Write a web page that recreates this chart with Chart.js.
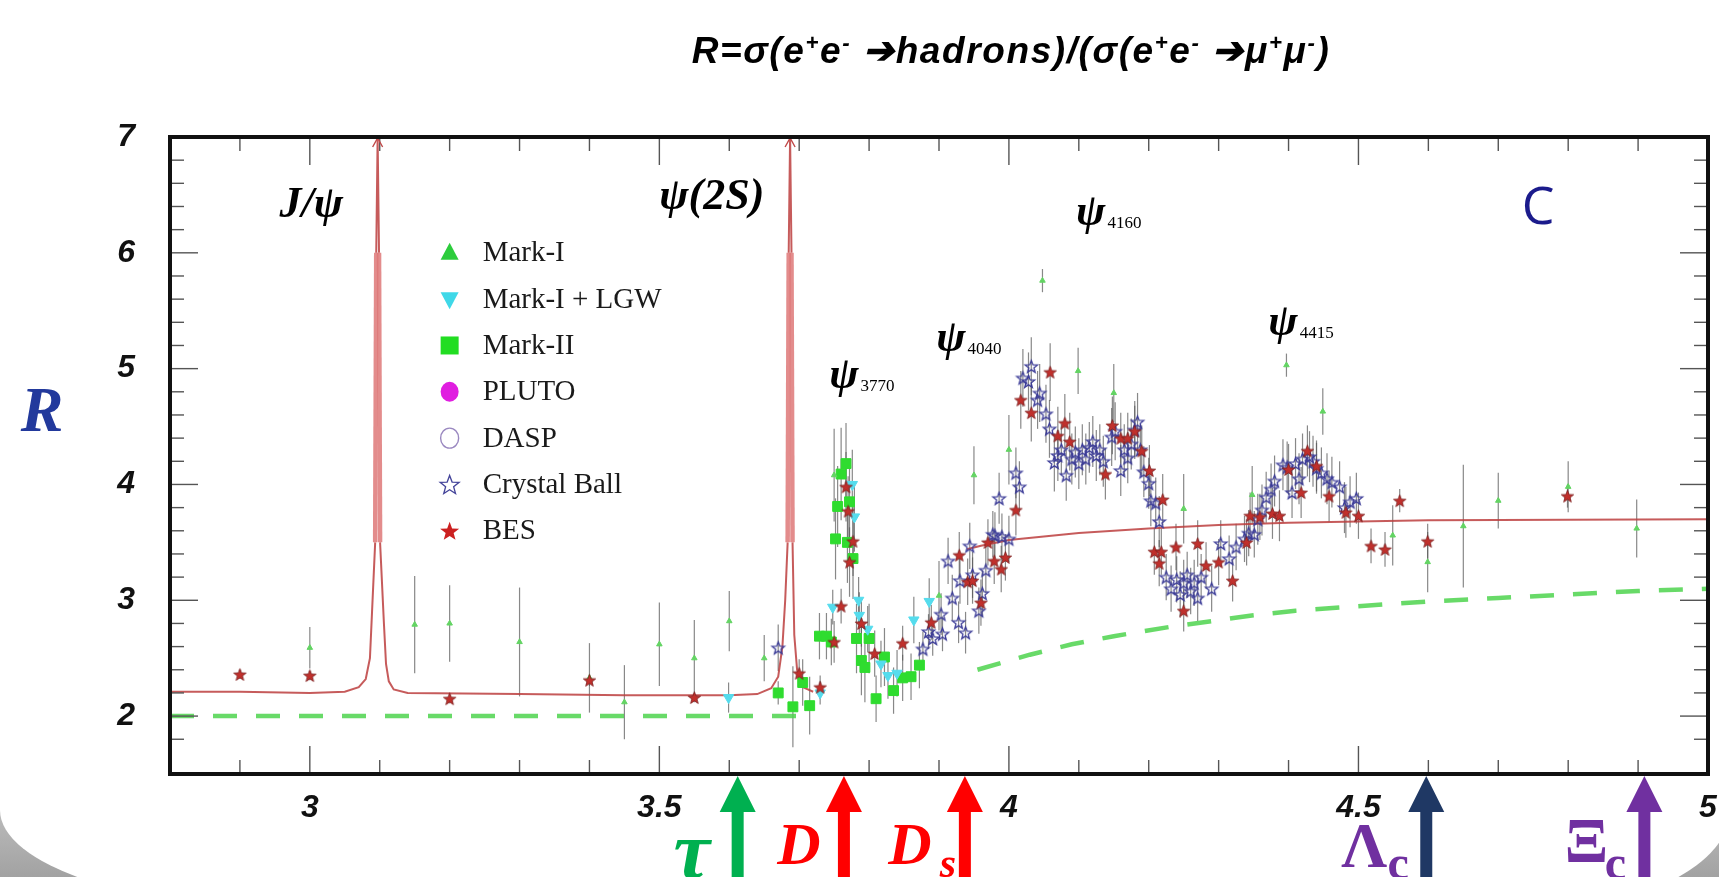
<!DOCTYPE html>
<html>
<head>
<meta charset="utf-8">
<script src="https://cdn.jsdelivr.net/npm/chart.js@4.4.1/dist/chart.umd.min.js"></script>
<style>
  html, body { margin: 0; padding: 0; width: 1719px; height: 877px; overflow: hidden; }
  body { position: relative; background: linear-gradient(#ffffff 0%, #ffffff 72%, #a2a2a2 100%); }
  #panel { position: absolute; left: 0; top: 58px; width: 1730px; height: 852px; background: #fff;
    border-radius: 0 130px 200px 300px / 0 60px 100px 100px; }
  #chart { position: absolute; left: 0; top: 0; }
  #title { position: absolute; top: 29px; left: 1011px; transform: translateX(-50%); white-space: nowrap;
    font: bold italic 37px "Liberation Sans", Arial, sans-serif; letter-spacing: 1.6px; color: #000; }
  #title sup { font-size: 60%; }
</style>
</head>
<body>
<div id="panel"></div>
<canvas id="chart" width="1719" height="877"></canvas>
<div id="title">R=σ(e<sup>+</sup>e<sup>-</sup> ➔hadrons)/(σ(e<sup>+</sup>e<sup>-</sup> ➔μ<sup>+</sup>μ<sup>-</sup>)</div>
<script>
// --- data (x = √s in GeV, y = R) ---
const markIX = [3.00, 3.15, 3.20, 3.30, 3.40, 3.45, 3.50, 3.55, 3.60, 3.65, 3.75, 3.90, 3.95, 4.00, 4.048, 4.099, 4.15, 4.25, 4.348, 4.397, 4.449, 4.549, 4.599, 4.65, 4.70, 4.80, 4.898];
const markIY = [2.59, 2.79, 2.80, 2.64, 2.33, 2.12, 2.62, 2.50, 2.82, 2.50, 4.08, 3.04, 4.08, 4.30, 5.76, 4.98, 4.79, 3.79, 3.91, 5.03, 4.63, 3.56, 3.33, 3.64, 3.86, 3.98, 3.62];
const markIErr = [0.18, 0.42, 0.33, 0.47, 0.30, 0.32, 0.36, 0.33, 0.26, 0.20, 0.40, 0.30, 0.25, 0.30, 0.10, 0.20, 0.25, 0.30, 0.25, 0.10, 0.20, 0.26, 0.26, 0.53, 0.24, 0.22, 0.25];

const lgwX = [3.599, 3.73, 3.748, 3.776, 3.779, 3.785, 3.786, 3.798, 3.817, 3.827, 3.84, 3.864, 3.886];
const lgwY = [2.16, 2.20, 2.94, 4.00, 3.72, 3.00, 2.87, 2.75, 2.45, 2.35, 2.37, 2.83, 2.99];
const lgwErr = [0.13, 0.10, 0.15, 0.30, 0.30, 0.20, 0.20, 0.20, 0.20, 0.20, 0.20, 0.20, 0.20];

const markIIX = [3.670, 3.691, 3.705, 3.715, 3.729, 3.739, 3.746, 3.752, 3.755, 3.760, 3.767, 3.769, 3.772, 3.777, 3.782, 3.789, 3.794, 3.800, 3.810, 3.822, 3.835, 3.848, 3.860, 3.872];
const markIIY = [2.20, 2.08, 2.29, 2.09, 2.69, 2.69, 2.64, 3.53, 3.81, 4.09, 4.18, 3.50, 3.85, 3.36, 2.67, 2.48, 2.42, 2.67, 2.15, 2.51, 2.22, 2.33, 2.34, 2.44];
const markIIErr = [0.10, 0.35, 0.20, 0.25, 0.20, 0.20, 0.20, 0.35, 0.35, 0.40, 0.35, 0.35, 0.35, 0.35, 0.30, 0.30, 0.30, 0.30, 0.20, 0.25, 0.20, 0.20, 0.20, 0.20];

const plutoX = [];
const plutoY = [];
const daspX = [];
const daspY = [];

const cbX = [3.670, 3.877, 3.885, 3.891, 3.903, 3.905, 3.913, 3.919, 3.928, 3.930,
  3.938, 3.944, 3.948, 3.957, 3.962, 3.967, 3.977, 3.980, 3.986, 3.990,
  4.000, 4.010, 4.015, 4.020, 4.028, 4.032, 4.041, 4.044, 4.053, 4.058,
  4.065, 4.070, 4.075, 4.082, 4.090, 4.095, 4.100, 4.105, 4.110, 4.115,
  4.120, 4.125, 4.130, 4.135, 4.147, 4.152, 4.160, 4.165, 4.170, 4.175,
  4.180, 4.184, 4.188, 4.193, 4.200, 4.203, 4.210, 4.215, 4.225, 4.232,
  4.240, 4.245, 4.250, 4.255, 4.260, 4.265, 4.270, 4.275, 4.290, 4.303,
  4.315, 4.325, 4.337, 4.343, 4.351, 4.356, 4.362, 4.368, 4.375, 4.380,
  4.392, 4.398, 4.405, 4.410, 4.415, 4.420, 4.430, 4.435, 4.440, 4.447,
  4.455, 4.462, 4.473, 4.480, 4.488, 4.497];
const cbY = [2.59, 2.58, 2.73, 2.67, 2.88, 2.71, 3.34, 3.02, 2.81, 3.17,
  2.72, 3.47, 3.22, 2.91, 3.06, 3.26, 3.57, 3.56, 3.88, 3.55,
  3.53, 4.10, 3.98, 4.92, 4.89, 5.02, 4.73, 4.79, 4.61, 4.48,
  4.19, 4.25, 4.30, 4.08, 4.22, 4.28, 4.18, 4.30, 4.22, 4.32,
  4.37, 4.25, 4.30, 4.20, 4.41, 4.46, 4.12, 4.30, 4.23, 4.35,
  4.47, 4.54, 4.30, 4.11, 4.01, 3.86, 3.84, 3.68, 3.20, 3.10,
  3.18, 3.05, 3.15, 3.22, 3.08, 3.15, 3.02, 3.20, 3.10, 3.49,
  3.36, 3.46, 3.53, 3.58, 3.57, 3.70, 3.78, 3.89, 3.96, 4.03,
  4.17, 4.15, 3.93, 4.18, 4.05, 4.22, 4.24, 4.20, 4.14, 4.10,
  4.05, 4.02, 3.98, 3.80, 3.85, 3.88];
const cbErr = [0.20, 0.15, 0.15, 0.15, 0.18, 0.15, 0.20, 0.20, 0.18, 0.20,
  0.18, 0.20, 0.20, 0.20, 0.20, 0.20, 0.20, 0.20, 0.22, 0.20,
  0.20, 0.22, 0.22, 0.25, 0.25, 0.25, 0.25, 0.25, 0.25, 0.25,
  0.25, 0.22, 0.22, 0.22, 0.22, 0.22, 0.22, 0.22, 0.22, 0.22,
  0.22, 0.22, 0.22, 0.22, 0.25, 0.25, 0.22, 0.22, 0.22, 0.22,
  0.25, 0.25, 0.22, 0.22, 0.22, 0.22, 0.22, 0.22, 0.20, 0.20,
  0.20, 0.20, 0.20, 0.20, 0.20, 0.20, 0.20, 0.20, 0.20, 0.20,
  0.20, 0.20, 0.20, 0.20, 0.20, 0.22, 0.22, 0.22, 0.22, 0.22,
  0.22, 0.22, 0.22, 0.22, 0.22, 0.22, 0.22, 0.22, 0.22, 0.22,
  0.22, 0.22, 0.22, 0.22, 0.22, 0.22];

const besX = [2.900, 3.000, 3.200, 3.400, 3.550, 3.700, 3.730, 3.750, 3.760, 3.767,
  3.770, 3.772, 3.777, 3.789, 3.808, 3.848, 3.889, 3.929, 3.941, 3.948,
  3.960, 3.970, 3.979, 3.989, 3.995, 4.010, 4.017, 4.032, 4.059, 4.070,
  4.080, 4.087, 4.138, 4.148, 4.160, 4.170, 4.180, 4.190, 4.201, 4.208,
  4.215, 4.218, 4.220, 4.239, 4.250, 4.270, 4.282, 4.300, 4.320, 4.340,
  4.345, 4.359, 4.377, 4.387, 4.400, 4.418, 4.427, 4.440, 4.458, 4.482,
  4.500, 4.518, 4.538, 4.559, 4.599, 4.799];
const besY = [2.36, 2.35, 2.15, 2.31, 2.16, 2.37, 2.25, 2.64, 2.95, 3.98,
  3.77, 3.33, 3.51, 2.80, 2.54, 2.63, 2.81, 3.39, 3.16, 3.17,
  2.98, 3.50, 3.34, 3.27, 3.37, 3.78, 4.73, 4.62, 4.97, 4.42,
  4.53, 4.37, 4.09, 4.51, 4.40, 4.40, 4.46, 4.29, 4.12, 3.42,
  3.32, 3.42, 3.87, 3.46, 2.91, 3.49, 3.30, 3.33, 3.17, 3.50,
  3.73, 3.72, 3.75, 3.73, 4.13, 3.93, 4.29, 4.16, 3.90, 3.76,
  3.73, 3.47, 3.44, 3.86, 3.51, 3.90];
const besErr = [0.04, 0.04, 0.04, 0.05, 0.04, 0.12, 0.10, 0.18, 0.15, 0.30,
  0.30, 0.30, 0.30, 0.20, 0.20, 0.15, 0.15, 0.20, 0.20, 0.20,
  0.20, 0.20, 0.20, 0.20, 0.20, 0.22, 0.25, 0.25, 0.25, 0.25,
  0.25, 0.25, 0.22, 0.25, 0.22, 0.22, 0.22, 0.22, 0.22, 0.20,
  0.20, 0.20, 0.22, 0.20, 0.18, 0.20, 0.20, 0.20, 0.18, 0.20,
  0.20, 0.20, 0.22, 0.22, 0.22, 0.22, 0.22, 0.22, 0.22, 0.22,
  0.20, 0.15, 0.15, 0.10, 0.15, 0.10];

// red curve (resonances + continuum) and green dashed curve (parton level)
const theoryX = [2.80, 2.90, 3.00, 3.05, 3.07, 3.08, 3.086, 3.089, 3.0935, 3.0950,
  3.097, 3.0990, 3.1005, 3.106, 3.109, 3.113, 3.12, 3.14, 3.30, 3.45,
  3.60, 3.64, 3.66, 3.67, 3.676, 3.680, 3.6835, 3.6850, 3.687, 3.6890,
  3.6905, 3.693, 3.697, 3.705, 3.72, 3.80, 3.94, 3.96, 4.00, 4.05,
  4.10, 4.20, 4.30, 4.40, 4.50, 4.60, 4.80, 5.00];
const theoryY = [2.21, 2.21, 2.20, 2.21, 2.25, 2.32, 2.50, 2.90, 3.50, 6.00,
  7.00, 6.00, 3.50, 2.80, 2.45, 2.30, 2.23, 2.20, 2.19, 2.18,
  2.18, 2.19, 2.24, 2.34, 2.60, 3.00, 3.50, 6.00, 7.00, 6.00,
  3.50, 2.70, 2.40, 2.25, 2.21, null, 3.44, 3.47, 3.52, 3.55,
  3.58, 3.62, 3.65, 3.67, 3.68, 3.69, 3.695, 3.70];
const partonX = [2.80, 3.72, 3.80, 3.955, 4.03, 4.09, 4.15, 4.23, 4.29, 4.35, 4.41, 4.48, 4.60, 4.70, 4.80, 4.90, 5.00];
const partonY = [2.00, 2.00, null, 2.40, 2.53, 2.62, 2.69, 2.77, 2.82, 2.87, 2.91, 2.94, 2.99, 3.02, 3.05, 3.08, 3.10];

// open-charm / tau thresholds marked under the axis
const thresholdX = [3.612, 3.764, 3.937, 4.597, 4.909];
const thresholdText = ["τ", "D", "D", "Λ", "Ξ"];
const thresholdSub = ["", "", "s", "c", "c"];
const thresholdArrowColor = ["#00b050", "#ff0000", "#ff0000", "#1f3864", "#7030a0"];
const thresholdTextColor = ["#00b050", "#ff0000", "#ff0000", "#7030a0", "#7030a0"];

// resonance labels
const resonanceName = ["J/ψ", "ψ(2S)", "ψ", "ψ", "ψ", "ψ"];
const resonanceSub = ["", "", "3770", "4040", "4160", "4415"];
const resonanceX = [3.002, 3.575, 3.764, 3.917, 4.117, 4.392];
const resonanceY = [6.41, 6.48, 4.93, 5.25, 6.34, 5.39];
const peakArrowX = [3.097, 3.687];

const pts = (xs, ys) => xs.map((x, i) => ({ x: x, y: ys[i] }));

function starPath(g, cx, cy, r) {
  g.beginPath();
  for (let i = 0; i < 10; i++) {
    const rr = i % 2 ? r * 0.42 : r;
    const a = -Math.PI / 2 + (i * Math.PI) / 5;
    g.lineTo(cx + rr * Math.cos(a), cy + rr * Math.sin(a));
  }
  g.closePath();
}

function starImage(r, fill, stroke, lw) {
  const c = document.createElement("canvas");
  const s = Math.ceil(2 * r + 4);
  c.width = s;
  c.height = s;
  const g = c.getContext("2d");
  starPath(g, s / 2, s / 2 + r * 0.1, r);
  if (fill) { g.fillStyle = fill; g.fill(); }
  if (stroke) { g.strokeStyle = stroke; g.lineWidth = lw; g.stroke(); }
  return c;
}

const cbStar = starImage(6.5, null, "#3c3c98", 1.3);
const besStar = starImage(6.5, "#c0302c", "#7a1c1c", 0.8);

// small marker painter used by the in-plot legend
function drawMarker(ctx, kind, x, y) {
  ctx.save();
  ctx.beginPath();
  if (kind === "up") {
    ctx.moveTo(x, y - 10); ctx.lineTo(x + 9, y + 7); ctx.lineTo(x - 9, y + 7); ctx.closePath();
    ctx.fillStyle = "#2ccc3c"; ctx.fill();
  } else if (kind === "down") {
    ctx.moveTo(x, y + 10); ctx.lineTo(x + 9, y - 7); ctx.lineTo(x - 9, y - 7); ctx.closePath();
    ctx.fillStyle = "#3fd8e8"; ctx.fill();
  } else if (kind === "square") {
    ctx.fillStyle = "#22dd22"; ctx.fillRect(x - 9, y - 9, 18, 18);
  } else if (kind === "disc") {
    ctx.ellipse(x, y, 9, 10, 0, 0, Math.PI * 2);
    ctx.fillStyle = "#e01ee0"; ctx.fill();
  } else if (kind === "ring") {
    ctx.ellipse(x, y, 9, 10, 0, 0, Math.PI * 2);
    ctx.strokeStyle = "#9a88c0"; ctx.lineWidth = 1.4; ctx.stroke();
  } else if (kind === "ostar") {
    starPath(ctx, x, y + 1, 10);
    ctx.strokeStyle = "#44449a"; ctx.lineWidth = 1.3; ctx.stroke();
  } else if (kind === "fstar") {
    starPath(ctx, x, y + 1, 10);
    ctx.fillStyle = "#cc2020"; ctx.fill();
  }
  ctx.restore();
}

const legendMarker = ["up", "down", "square", "disc", "ring", "ostar", "fstar"];

const isMult = (v, s) => Math.abs(v / s - Math.round(v / s)) < 1e-6;

// steep flanks of the narrow peaks look like a broad pink band in the original
function onFlank(c) {
  const lo = Math.min(c.p0.parsed.y, c.p1.parsed.y);
  const hi = Math.max(c.p0.parsed.y, c.p1.parsed.y);
  return lo >= 3.5 && hi <= 6.0 && hi - lo > 1;
}

const errorBars = {
  id: "errorBars",
  beforeDatasetsDraw(chart) {
    const { ctx, chartArea: a, scales: { x, y } } = chart;
    ctx.save();
    ctx.beginPath();
    ctx.rect(a.left, a.top, a.width, a.height);
    ctx.clip();
    ctx.strokeStyle = "rgba(85,85,85,0.7)";
    ctx.lineWidth = 1.2;
    chart.data.datasets.forEach((ds) => {
      if (!ds.errs) return;
      ds.data.forEach((p, j) => {
        const px = x.getPixelForValue(p.x);
        ctx.beginPath();
        ctx.moveTo(px, y.getPixelForValue(p.y - ds.errs[j]));
        ctx.lineTo(px, y.getPixelForValue(p.y + ds.errs[j]));
        ctx.stroke();
      });
    });
    ctx.restore();
  },
};

const decorations = {
  id: "decorations",
  afterDatasetsDraw(chart) {
    const { ctx, chartArea: a, scales: { x, y } } = chart;
    ctx.save();

    // tick marks pointing into the frame
    ctx.strokeStyle = "#555";
    ctx.lineWidth = 1.4;
    const seg = (x1, y1, x2, y2) => { ctx.beginPath(); ctx.moveTo(x1, y1); ctx.lineTo(x2, y2); ctx.stroke(); };
    x.ticks.forEach((t) => {
      if (!isMult(t.value, 0.1)) return;
      const px = x.getPixelForValue(t.value);
      const len = isMult(t.value, 0.5) ? 28 : 14;
      seg(px, a.bottom, px, a.bottom - len);
      seg(px, a.top, px, a.top + len);
    });
    y.ticks.forEach((t) => {
      if (!isMult(t.value, 0.2)) return;
      const py = y.getPixelForValue(t.value);
      const len = isMult(t.value, 1) ? 28 : 14;
      seg(a.left, py, a.left + len, py);
      seg(a.right, py, a.right - len, py);
    });

    // open arrowheads on top of the two narrow peaks
    ctx.strokeStyle = "#c04848";
    ctx.lineWidth = 1.4;
    peakArrowX.forEach((v) => {
      const px = x.getPixelForValue(v);
      ctx.beginPath();
      ctx.moveTo(px - 5, a.top + 10);
      ctx.lineTo(px, a.top + 1);
      ctx.lineTo(px + 5, a.top + 10);
      ctx.stroke();
    });

    // frame
    ctx.strokeStyle = "#111";
    ctx.lineWidth = 4;
    ctx.strokeRect(a.left, a.top, a.width, a.height);

    // legend inside the plot
    const legendNames = chart.data.datasets.filter((d) => d.inLegend).map((d) => d.label);
    ctx.font = '29px "Liberation Serif", "Times New Roman", serif';
    ctx.textBaseline = "middle";
    ctx.textAlign = "left";
    legendNames.forEach((name, i) => {
      const py = y.getPixelForValue(6.0 - 0.4 * i);
      const px = x.getPixelForValue(3.2);
      drawMarker(ctx, legendMarker[i], px, py);
      ctx.fillStyle = "#1a1a1a";
      ctx.fillText(name, px + 33, py + 1);
    });

    // resonance labels
    ctx.fillStyle = "#000";
    resonanceName.forEach((name, i) => {
      const px = x.getPixelForValue(resonanceX[i]);
      const py = y.getPixelForValue(resonanceY[i]);
      ctx.font = 'bold italic 44px "Liberation Serif", serif';
      ctx.textAlign = "center";
      ctx.fillText(name, px, py);
      if (resonanceSub[i]) {
        const w = ctx.measureText(name).width;
        ctx.font = '17px "Liberation Serif", serif';
        ctx.textAlign = "left";
        ctx.fillText(resonanceSub[i], px + w / 2 + 2, py + 10);
      }
    });

    // "C" tag and R axis title
    ctx.textAlign = "center";
    ctx.font = '52px "Open Sans", sans-serif';
    ctx.fillStyle = "#1b1b8c";
    ctx.fillText("C", x.getPixelForValue(4.757), y.getPixelForValue(6.38));
    ctx.font = 'bold italic 64px "Liberation Serif", serif';
    ctx.fillStyle = "#22399c";
    ctx.fillText("R", a.left - 128, y.getPixelForValue(4.6));
    ctx.restore();
  },
  afterDraw(chart) {
    const { ctx, chartArea: a, scales: { x } } = chart;
    const H = chart.height;
    ctx.save();
    thresholdX.forEach((v, i) => {
      const px = x.getPixelForValue(v);
      ctx.fillStyle = thresholdArrowColor[i];
      ctx.beginPath();
      ctx.moveTo(px, a.bottom + 2);
      ctx.lineTo(px + 18, a.bottom + 38);
      ctx.lineTo(px - 18, a.bottom + 38);
      ctx.closePath();
      ctx.fill();
      ctx.fillRect(px - 6, a.bottom + 36, 12, H - a.bottom - 36);

      ctx.fillStyle = thresholdTextColor[i];
      ctx.textAlign = "center";
      ctx.textBaseline = "alphabetic";
      if (i === 0) {
        ctx.font = 'bold italic 82px "Liberation Serif", serif';
        ctx.fillText(thresholdText[i], px - 46, 878);
      } else if (i < 3) {
        ctx.font = 'bold italic 60px "Liberation Serif", serif';
        ctx.fillText(thresholdText[i], px - (i === 1 ? 45 : 55), 864);
        if (thresholdSub[i]) {
          ctx.font = 'bold italic 42px "Liberation Serif", serif';
          ctx.fillText(thresholdSub[i], px - 17, 877);
        }
      } else {
        ctx.font = 'bold 64px "Liberation Serif", serif';
        ctx.fillText(thresholdText[i], px - (i === 3 ? 62 : 58), i === 3 ? 867 : 862);
        ctx.font = 'bold 48px "Liberation Serif", serif';
        ctx.fillText(thresholdSub[i], px - (i === 3 ? 28 : 29), 879);
      }
    });
    ctx.restore();
  },
};

const tickFont = { family: '"Liberation Sans", Arial, sans-serif', size: 32, style: "italic", weight: "bold" };

new Chart(document.getElementById("chart").getContext("2d"), {
  type: "scatter",
  data: {
    datasets: [
      { label: "Mark-I", inLegend: true, data: pts(markIX, markIY), errs: markIErr, pointStyle: "triangle",
        pointRadius: 3.2, backgroundColor: "#63d463", borderColor: "#63d463", order: 3 },
      { label: "Mark-I + LGW", inLegend: true, data: pts(lgwX, lgwY), errs: lgwErr, pointStyle: "triangle", rotation: 180,
        pointRadius: 6, backgroundColor: "#55dced", borderColor: "#55dced", order: 4 },
      { label: "Mark-II", inLegend: true, data: pts(markIIX, markIIY), errs: markIIErr, pointStyle: "rect",
        pointRadius: 7, backgroundColor: "#2fdc2f", borderColor: "#2fdc2f", order: 5 },
      { label: "PLUTO", inLegend: true, data: pts(plutoX, plutoY), pointStyle: "circle",
        pointRadius: 5, backgroundColor: "#e01ee0", borderColor: "#e01ee0", order: 2 },
      { label: "DASP", inLegend: true, data: pts(daspX, daspY), pointStyle: "circle",
        pointRadius: 5, backgroundColor: "rgba(0,0,0,0)", borderColor: "#9a88c0", order: 2 },
      { label: "Crystal Ball", inLegend: true, data: pts(cbX, cbY), errs: cbErr, pointStyle: cbStar, order: 1 },
      { label: "BES", inLegend: true, data: pts(besX, besY), errs: besErr, pointStyle: besStar, order: 0 },
      { type: "line", label: "R theory", data: pts(theoryX, theoryY), borderColor: "rgba(188,62,62,0.85)",
        borderWidth: 2, pointRadius: 0, spanGaps: false, tension: 0, order: 8,
        segment: {
          borderWidth: (c) => (onFlank(c) ? 4.5 : undefined),
          borderColor: (c) => (onFlank(c) ? "rgba(222,120,120,0.85)" : undefined),
        } },
      { type: "line", label: "parton", data: pts(partonX, partonY), borderColor: "rgba(78,212,78,0.85)",
        borderWidth: 4.5, borderDash: [24, 19], pointRadius: 0, spanGaps: false, tension: 0, order: 9 },
    ],
  },
  options: {
    responsive: false,
    animation: false,
    events: [],
    layout: { padding: { top: 137, right: 11, left: 0, bottom: 0 } },
    plugins: { legend: { display: false }, tooltip: { enabled: false } },
    scales: {
      x: {
        type: "linear", min: 2.8, max: 5.0,
        afterFit: (s) => { s.height = 103; s.paddingLeft = 0; s.paddingRight = 0; },
        grid: { display: false }, border: { display: false },
        ticks: {
          stepSize: 0.1, autoSkip: false, maxRotation: 0, padding: 7, color: "#111", font: tickFont,
          callback: (v) => (isMult(v, 0.5) ? String(+v.toFixed(1)) : ""),
        },
      },
      y: {
        type: "linear", min: 1.5, max: 7,
        afterFit: (s) => { s.width = 170; },
        grid: { display: false }, border: { display: false },
        ticks: {
          stepSize: 0.2, autoSkip: false, padding: 27, color: "#111", font: tickFont,
          callback: (v) => (isMult(v, 1) ? String(Math.round(v)) : ""),
        },
      },
    },
  },
  plugins: [errorBars, decorations],
});
</script>
</body>
</html>
